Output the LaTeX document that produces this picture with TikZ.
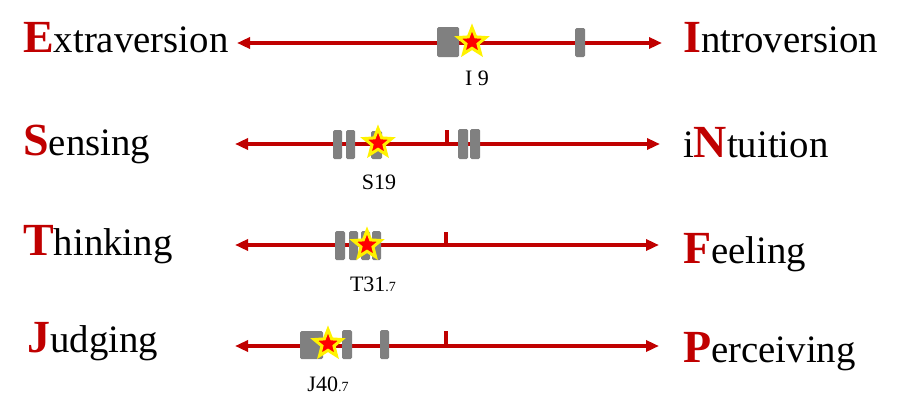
\documentclass[tikz,border=0pt]{standalone}
\usepackage{fontspec}
\setmainfont{Liberation Serif}
\usetikzlibrary{shapes.geometric,arrows.meta}
\definecolor{axisred}{HTML}{C00000}
\definecolor{barg}{HTML}{808080}
\definecolor{starred}{HTML}{FF0000}
\definecolor{staryel}{HTML}{FFF200}
\newcommand{\Lead}[1]{{\fontsize{46}{46}\selectfont\bfseries\color{axisred}#1}}
\newcommand{\Rest}[1]{{\fontsize{38.8}{40}\selectfont #1}}
\tikzset{
  lbl/.style={inner sep=0pt, anchor=base west, text=black},
  axis/.style={draw=axisred, line width=3.4pt, {Triangle[length=13pt,width=11pt]}-{Triangle[length=13pt,width=11pt]}},
  tickmark/.style={draw=axisred, line width=3.5pt},
  bar/.style={fill=barg, draw=none, rounded corners=1.5pt},
  mystar/.style={star, star points=5, star point ratio=2.3, minimum size=29pt, inner sep=0pt, fill=starred, draw=staryel, line width=3pt},
  score/.style={inner sep=0pt, anchor=base, font=\fontsize{22}{24}\selectfont}
}
\begin{document}
\begin{tikzpicture}[x=1pt,y=-1pt]
\useasboundingbox (0,0) rectangle (904,413);
% labels
\node[lbl] (E) at (23,52) {\Lead{E}\Rest{xtraversion}};
\node[lbl] (I) at (683,52) {\Lead{I}\Rest{ntroversion}};
\node[lbl] (S) at (23,155) {\Lead{S}\Rest{ensing}};
\node[lbl] (N) at (683,157) {\Rest{i}\Lead{N}\Rest{tuition}};
\node[lbl] (T) at (23,255) {\Lead{T}\Rest{hinking}};
\node[lbl] (F) at (683,263) {\Lead{F}\Rest{eeling}};
\node[lbl] (J) at (27,352) {\Lead{J}\Rest{udging}};
\node[lbl] (P) at (683,362) {\Lead{P}\Rest{erceiving}};
% axes
\coordinate (a1l) at (237,43); \coordinate (a1r) at (662,43);
\coordinate (a2l) at (235,144); \coordinate (a2r) at (660,144);
\coordinate (a3l) at (235,245); \coordinate (a3r) at (659,245);
\coordinate (a4l) at (235,346); \coordinate (a4r) at (659,346);
\draw[axis] (a1l) -- (a1r);
\draw[axis] (a2l) -- (a2r);
\draw[axis] (a3l) -- (a3r);
\draw[axis] (a4l) -- (a4r);
% ticks
\coordinate (t2) at (447,130); \coordinate (t2b) at (447,144);
\coordinate (t3) at (446,232); \coordinate (t3b) at (446,245);
\coordinate (t4) at (446,331); \coordinate (t4b) at (446,346);
\draw[tickmark] (t2) -- (t2b);
\draw[tickmark] (t3) -- (t3b);
\draw[tickmark] (t4) -- (t4b);
% row 1 bars
\fill[bar] (437,27) rectangle (459,57);
\fill[bar] (575,28) rectangle (585,57);
\node[mystar] (s1) at (472,42) {};
\node[score] (l1) at (477,85) {I 9};
% row 2 bars
\fill[bar] (333,130) rectangle (342,159);
\fill[bar] (346,130) rectangle (355,159);
\fill[bar] (371,131) rectangle (382,159);
\fill[bar] (458,129) rectangle (468,159);
\fill[bar] (470,129) rectangle (480,159);
\node[mystar] (s2) at (378,143) {};
\node[score] (l2) at (379,189) {S19};
% row 3 bars
\fill[bar] (335,231) rectangle (345,260);
\fill[bar] (349,231) rectangle (358,260);
\fill[bar] (361,231) rectangle (370,260);
\fill[bar] (372,231) rectangle (381,260);
\node[mystar] (s3) at (367,245) {};
\node[score] (l3) at (373,291) {T31{\fontsize{14}{14}\selectfont.7}};
% row 4 bars
\fill[bar] (300,331) rectangle (323,359);
\fill[bar] (342,330) rectangle (352,359);
\fill[bar] (380,330) rectangle (389,359);
\node[mystar] (s4) at (328,344) {};
\node[score] (l4) at (328,391) {J40{\fontsize{14}{14}\selectfont.7}};
\end{tikzpicture}
\end{document}
